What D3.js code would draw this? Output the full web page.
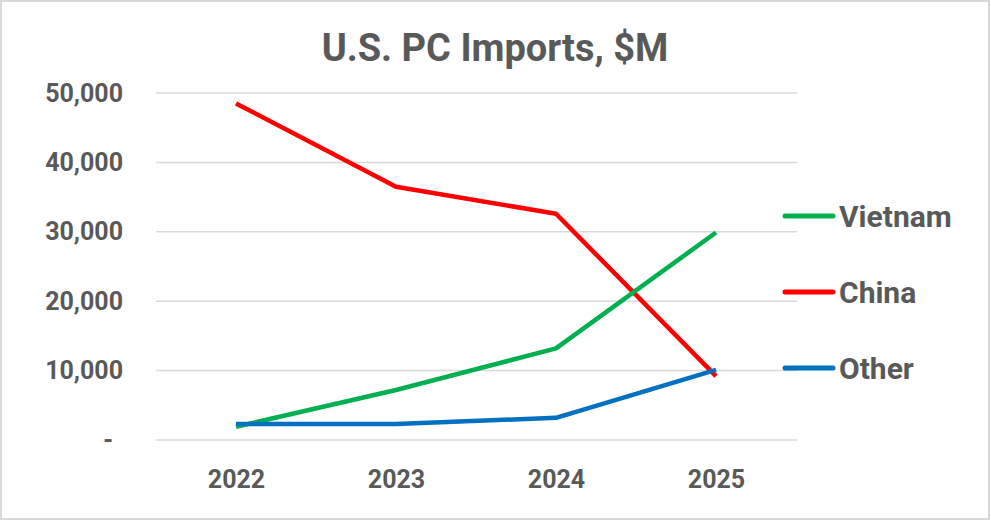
<!DOCTYPE html>
<html>
<head>
<meta charset="utf-8">
<script src="https://cdn.jsdelivr.net/npm/d3@7"></script>
<style>
  body { margin: 0; background: #fff; }
  #chart text { font-family: Roboto, "Liberation Sans", sans-serif; fill: #595959; }
</style>
</head>
<body>
<div id="chart"></div>
<script>
const years = ['2022', '2023', '2024', '2025'];
const seriesNames = ['Vietnam', 'China', 'Other'];
const vietnam = [1900, 7200, 13200, 29900];
const china = [48500, 36500, 32600, 9200];
const other = [2300, 2300, 3200, 10100];
const yTicks = [0, 10000, 20000, 30000, 40000, 50000];
const colors = ['#00b050', '#ff0000', '#0070c0'];

const width = 991;
const height = 521;
const svg = d3.select('#chart').append('svg').attr('width', width).attr('height', height);

// chart frame
svg.append('rect')
  .attr('x', 1).attr('y', 1)
  .attr('width', width - 3).attr('height', height - 3)
  .attr('fill', '#fff')
  .attr('stroke', '#d9d9d9')
  .attr('stroke-width', 2);

const x = d3.scalePoint().domain(years).range([156, 796]).padding(0.5);
const y = d3.scaleLinear().domain([0, 50000]).range([440, 93]);

// gridlines
svg.append('g').selectAll('line').data(yTicks).join('line')
  .attr('x1', 156).attr('x2', 797)
  .attr('y1', d => y(d)).attr('y2', d => y(d))
  .attr('stroke', '#d9d9d9')
  .attr('stroke-width', 1.5);

const fmt = d3.format(',');
const yAxis = svg.append('g')
  .attr('transform', 'translate(123,0)')
  .call(d3.axisLeft(y).tickValues(yTicks).tickSize(0).tickPadding(0)
    .tickFormat(d => d === 0 ? '-' : fmt(d)));
yAxis.select('.domain').remove();
yAxis.selectAll('text')
  .attr('dx', d => d === 0 ? -10 : 0)
  .style('font-size', '25px')
  .style('font-weight', 'bold');

const xAxis = svg.append('g')
  .attr('transform', 'translate(0,440)')
  .call(d3.axisBottom(x).tickSize(0).tickPadding(0));
xAxis.select('.domain').remove();
xAxis.selectAll('text')
  .attr('y', 48)
  .attr('dy', 0)
  .style('font-size', '25px')
  .style('font-weight', 'bold');

// title
svg.append('text')
  .attr('x', 495)
  .attr('y', 61)
  .attr('text-anchor', 'middle')
  .style('font-size', '38px')
  .style('font-weight', 'bold')
  .text('U.S. PC Imports, $M');

const series = [vietnam, china, other];
const line = d3.line().x((d, i) => x(years[i])).y(d => y(d));

// drawn so that blue sits on top like the original
[1, 0, 2].forEach(k => {
  svg.append('path')
    .datum(series[k])
    .attr('d', line)
    .attr('fill', 'none')
    .attr('stroke', colors[k])
    .attr('stroke-width', 4.5)
    .attr('stroke-linejoin', 'round');
});

// legend
const legendY = [216, 292, 368];
const legend = svg.append('g').selectAll('g').data(seriesNames).join('g')
  .attr('transform', (d, i) => `translate(783,${legendY[i]})`);
legend.append('line')
  .attr('x1', 2).attr('x2', 50)
  .attr('stroke', (d, i) => colors[i])
  .attr('stroke-width', 5)
  .attr('stroke-linecap', 'round');
legend.append('text')
  .attr('x', 56)
  .attr('dy', '0.36em')
  .style('font-size', '30px')
  .style('font-weight', 'bold')
  .text(d => d);
</script>
</body>
</html>
